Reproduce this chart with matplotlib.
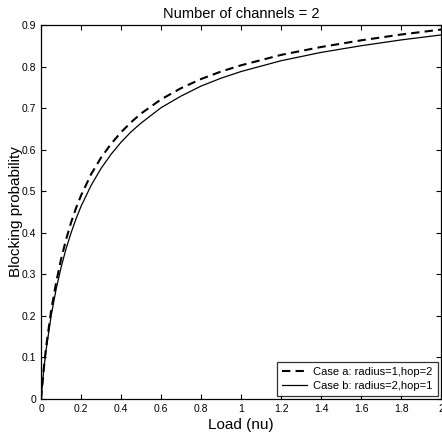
import matplotlib
matplotlib.use("Agg")
from matplotlib import pyplot as plt

plt.rcParams['font.family'] = ['Liberation Sans', 'DejaVu Sans']

load = [0, 0.0125, 0.025, 0.05, 0.075, 0.1, 0.125, 0.15, 0.175, 0.2, 0.25,
        0.3, 0.35, 0.4, 0.45, 0.5, 0.6, 0.7, 0.8, 0.9, 1.0, 1.2, 1.4,
        1.6, 1.8, 2.0]
case_a = [0, 0.07, 0.125, 0.212, 0.28, 0.337, 0.384, 0.425, 0.46, 0.49,
          0.541, 0.581, 0.614, 0.642, 0.666, 0.687, 0.721, 0.748, 0.77,
          0.788, 0.803, 0.828, 0.847, 0.863, 0.877, 0.889]
case_b = [0, 0.067, 0.118, 0.2, 0.264, 0.317, 0.362, 0.4, 0.434, 0.464,
          0.514, 0.555, 0.589, 0.618, 0.643, 0.664, 0.701, 0.729, 0.753,
          0.772, 0.788, 0.814, 0.834, 0.85, 0.864, 0.876]

xticks = [0, 0.2, 0.4, 0.6, 0.8, 1, 1.2, 1.4, 1.6, 1.8, 2]
xtick_labels = ['0', '0.2', '0.4', '0.6', '0.8', '1', '1.2', '1.4', '1.6', '1.8', '2']
yticks = [0, 0.1, 0.2, 0.3, 0.4, 0.5, 0.6, 0.7, 0.8, 0.9]
ytick_labels = ['0', '0.1', '0.2', '0.3', '0.4', '0.5', '0.6', '0.7', '0.8', '0.9']

fig = plt.figure(figsize=(4.42, 4.38), dpi=100)
ax = fig.add_axes([0.093, 0.089, 0.905, 0.854])

ax.plot(load, case_a, color='black', linestyle=(0, (4, 2.5)), linewidth=1.5,
        label='Case a: radius=1,hop=2')
ax.plot(load, case_b, color='black', linestyle='-', linewidth=0.9,
        label='Case b: radius=2,hop=1')

ax.set_xlim(0, 2)
ax.set_ylim(0, 0.9)
ax.set_xticks(xticks)
ax.set_xticklabels(xtick_labels)
ax.set_yticks(yticks)
ax.set_yticklabels(ytick_labels)
ax.tick_params(direction='in', top=True, right=True, labelsize=7.5,
               length=3.5, width=0.8, pad=3.5)
for s in ax.spines.values():
    s.set_linewidth(0.9)

ax.set_title('Number of channels = 2', fontsize=10.5, pad=5)
ax.set_xlabel('Load (nu)', fontsize=11, labelpad=3)
ax.set_ylabel('Blocking probability', fontsize=11)
ax.yaxis.set_label_coords(-0.046, 0.5)

leg = ax.legend(loc='lower right', fontsize=8, frameon=True, fancybox=False,
                borderpad=0.45, labelspacing=0.35, handlelength=2.2,
                handletextpad=0.6, borderaxespad=0.3)
leg.get_frame().set_edgecolor('black')
leg.get_frame().set_linewidth(0.9)

fig.savefig('out.png', dpi=100)
